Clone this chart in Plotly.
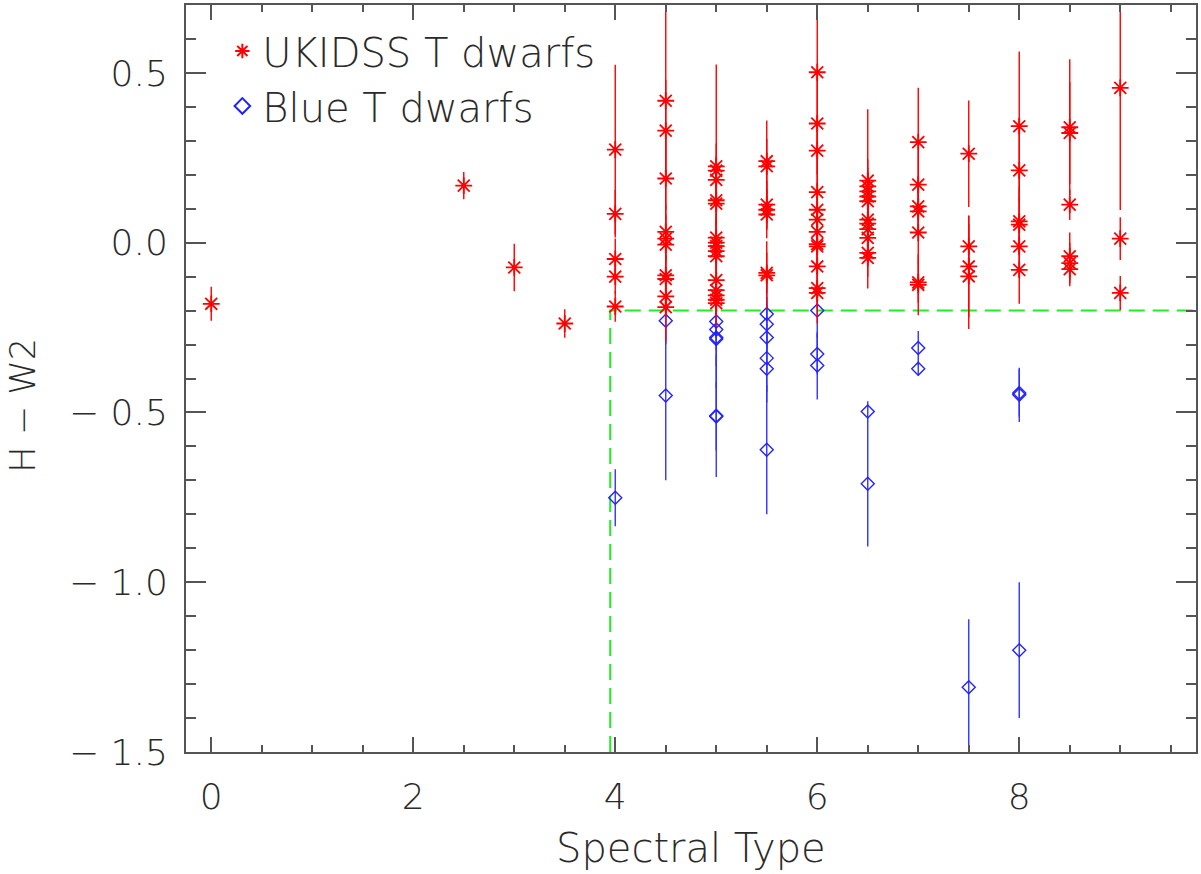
import plotly.graph_objects as go

# ---------------- data ----------------
# UKIDSS T dwarfs (red asterisks): spectral type, H-W2, error
red_spt = [0, 2.5, 3, 3.5,
           4, 4, 4, 4, 4,
           4.5, 4.5, 4.5, 4.5, 4.5, 4.5, 4.5, 4.5, 4.5, 4.5,
           5, 5, 5, 5, 5, 5, 5, 5, 5, 5, 5, 5, 5, 5, 5,
           5.5, 5.5, 5.5, 5.5, 5.5, 5.5, 5.5,
           6, 6, 6, 6, 6, 6, 6, 6, 6, 6, 6, 6,
           6.5, 6.5, 6.5, 6.5, 6.5, 6.5, 6.5, 6.5, 6.5, 6.5, 6.5,
           7, 7, 7, 7, 7, 7, 7,
           7.5, 7.5, 7.5, 7.5,
           8, 8, 8, 8, 8, 8,
           8.5, 8.5, 8.5, 8.5, 8.5, 8.5,
           9, 9, 9]
red_hw2 = [-0.18, 0.168, -0.073, -0.238,
           0.274, 0.085, -0.048, -0.100, -0.188,
           0.418, 0.330, 0.189, 0.032, 0.012, -0.006, -0.096, -0.107, -0.158, -0.190,
           0.225, 0.212, 0.185, 0.125, 0.115, 0.015, 0.000, -0.010, -0.025, -0.040, -0.110, -0.140, -0.155, -0.168, -0.178,
           0.240, 0.225, 0.112, 0.097, 0.083, -0.089, -0.096,
           0.502, 0.351, 0.271, 0.149, 0.097, 0.068, 0.032, -0.004, -0.011, -0.070, -0.134, -0.148,
           0.183, 0.166, 0.151, 0.136, 0.122, 0.068, 0.056, 0.040, 0.014, -0.030, -0.045,
           0.296, 0.171, 0.107, 0.092, 0.030, -0.117, -0.124,
           0.262, -0.011, -0.070, -0.099,
           0.343, 0.213, 0.063, 0.053, -0.011, -0.080,
           0.340, 0.323, 0.112, -0.040, -0.060, -0.078,
           0.456, 0.012, -0.148]
red_err = [0.05, 0.04, 0.07, 0.042,
           0.25, 0.07, 0.06, 0.05, 0.045,
           0.32, 0.15, 0.12, 0.08, 0.07, 0.08, 0.06, 0.07, 0.06, 0.10,
           0.30, 0.08, 0.07, 0.08, 0.06, 0.07, 0.06, 0.08, 0.06, 0.07, 0.06, 0.05, 0.06, 0.05, 0.07,
           0.12, 0.08, 0.07, 0.06, 0.07, 0.06, 0.10,
           0.25, 0.15, 0.10, 0.10, 0.08, 0.07, 0.08, 0.06, 0.07, 0.08, 0.06, 0.09,
           0.21, 0.08, 0.07, 0.06, 0.08, 0.06, 0.07, 0.05, 0.06, 0.07, 0.09,
           0.16, 0.10, 0.08, 0.07, 0.09, 0.06, 0.09,
           0.157, 0.09, 0.15, 0.155,
           0.22, 0.15, 0.10, 0.08, 0.09, 0.10,
           0.20, 0.15, 0.045, 0.07, 0.06, 0.05,
           0.36, 0.063, 0.05]

# Blue T dwarfs (blue diamonds)
blue_spt = [4, 4.5, 4.5, 5, 5, 5, 5, 5, 5,
            5.5, 5.5, 5.5, 5.5, 5.5, 5.5,
            6, 6, 6, 6.5, 6.5, 7, 7, 7.5, 8, 8, 8]
blue_hw2 = [-0.751, -0.230, -0.450, -0.232, -0.256, -0.279, -0.284, -0.510, -0.512,
            -0.210, -0.240, -0.279, -0.340, -0.371, -0.610,
            -0.200, -0.328, -0.362, -0.497, -0.710, -0.310, -0.371, -1.309, -0.443, -0.448, -1.200]
blue_err = [0.084, 0.07, 0.25, 0.05, 0.06, 0.15, 0.08, 0.18, 0.10,
            0.10, 0.08, 0.10, 0.10, 0.10, 0.19,
            0.08, 0.06, 0.10, 0.03, 0.185, 0.05, 0.02, 0.20, 0.07, 0.08, 0.20]

# selection cut (green dashed)
cut_spt = [3.95, 3.95, 9.75]
cut_hw2 = [-1.5, -0.2, -0.2]

x_ticks = [0, 2, 4, 6, 8]
x_ticktext = ["0", "2", "4", "6", "8"]
y_ticks = [0.5, 0.0, -0.5, -1.0, -1.5]
y_ticktext = ["0.5", "0.0", "\u2212 0.5", "\u2212 1.0", "\u2212 1.5"]

FONT = "DejaVu Sans"
W = 200
TXT = "#2a2a2a"
AX = "#555555"

fig = go.Figure()

fig.add_trace(go.Scatter(
    x=cut_spt, y=cut_hw2, mode="lines",
    line=dict(color="#22ee22", width=2, dash="16px,8px"),
    showlegend=False, hoverinfo="skip"))

fig.add_trace(go.Scatter(
    x=blue_spt, y=blue_hw2, mode="markers", name="Blue T dwarfs",
    legendgroup="b", legendrank=2,
    marker=dict(symbol="diamond-open", size=10, color="#2222ff",
                line=dict(width=1.4, color="#2222ff")),
    error_y=dict(type="data", array=blue_err, visible=True,
                 color="#3333ff", thickness=1.4, width=0)))

fig.add_trace(go.Scatter(
    x=red_spt, y=red_hw2, mode="markers", name="UKIDSS T dwarfs",
    legendgroup="r", legendrank=1,
    marker=dict(symbol="asterisk-open", size=14, color="#ff0000",
                line=dict(width=1.8, color="#ff0000")),
    error_y=dict(type="data", array=red_err, visible=True,
                 color="#ff0000", thickness=1.4, width=0)))

fig.update_layout(
    width=1201, height=874,
    margin=dict(l=186, r=5, t=5, b=122, autoexpand=False),
    paper_bgcolor="white", plot_bgcolor="white",
    font=dict(family=FONT, color=TXT, size=36, weight=W),
    showlegend=True,
    legend=dict(x=0.036, y=0.982, xanchor="left", yanchor="top",
                bgcolor="rgba(0,0,0,0)", borderwidth=0,
                font=dict(family=FONT, size=40, color=TXT, weight=W),
                tracegroupgap=0, itemsizing="constant"),
    annotations=[
        dict(text="Spectral Type", xref="paper", yref="paper", x=0.5, y=-0.1285,
             xanchor="center", yanchor="middle", showarrow=False,
             font=dict(size=40, family=FONT, color=TXT, weight=W)),
        dict(text="H \u2212 W2", xref="paper", yref="paper", x=-0.1614, y=0.465,
             xanchor="center", yanchor="middle", showarrow=False, textangle=-90,
             font=dict(size=35, family=FONT, color=TXT, weight=W)),
    ],
)

fig.update_xaxes(
    range=[-0.25, 9.75], showgrid=False, zeroline=False, automargin=False,
    showline=True, linecolor=AX, linewidth=2, mirror="ticks",
    ticks="inside", ticklen=15, tickwidth=1.5, tickcolor=AX,
    tickvals=x_ticks, ticktext=x_ticktext,
    tickfont=dict(size=36, family=FONT, color=TXT, weight=W),
    ticklabelstandoff=12,
    minor=dict(dtick=0.5, tick0=0, ticks="inside", ticklen=7, tickwidth=1.5, tickcolor=AX, showgrid=False),
)
fig.update_yaxes(
    range=[-1.5, 0.7], showgrid=False, zeroline=False, automargin=False,
    showline=True, linecolor=AX, linewidth=2, mirror="ticks",
    ticks="inside", ticklen=20, tickwidth=1.5, tickcolor=AX,
    tickvals=y_ticks, ticktext=y_ticktext,
    tickfont=dict(size=36, family=FONT, color=TXT, weight=W),
    ticklabelstandoff=9,
    minor=dict(dtick=0.1, tick0=0, ticks="inside", ticklen=10, tickwidth=1.5, tickcolor=AX, showgrid=False),
)

fig.write_html("out.html", config={"displayModeBar": False},
               post_script="document.body.style.margin='0';document.body.style.overflow='hidden';")
